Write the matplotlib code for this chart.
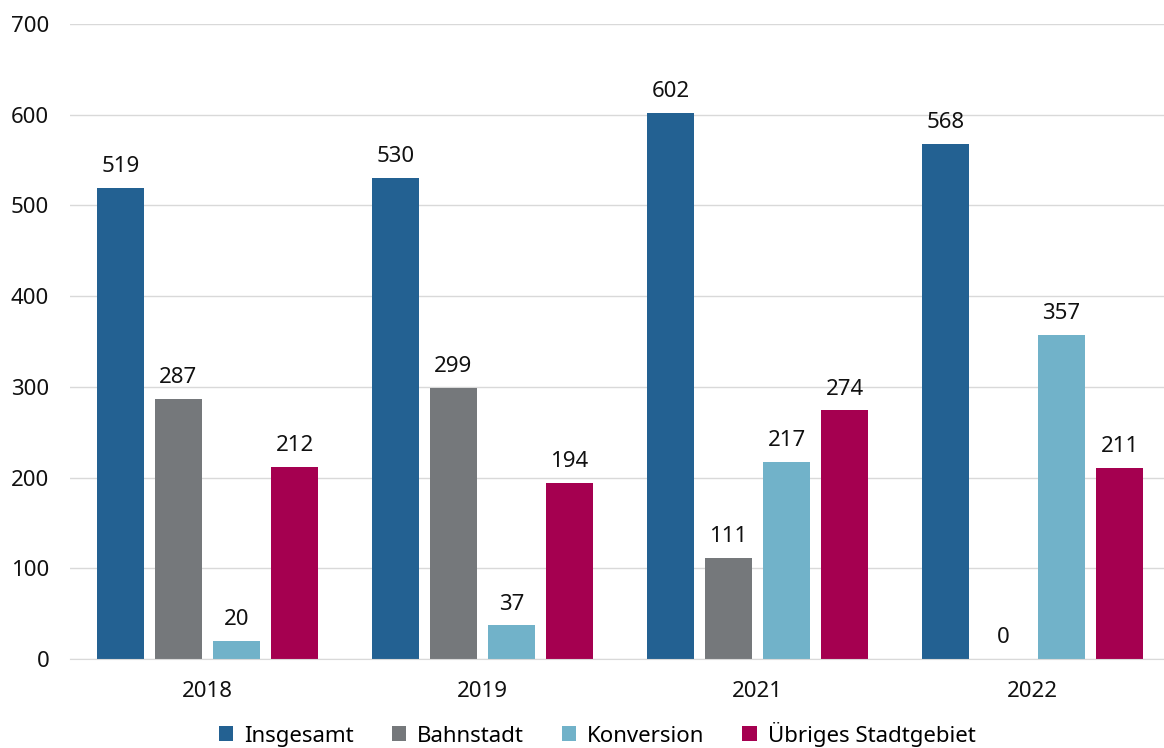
import numpy as np
import matplotlib.pyplot as plt

plt.rcParams['font.family'] = ['Noto Sans', 'DejaVu Sans']

years = ['2018', '2019', '2021', '2022']
series = ['Insgesamt', 'Bahnstadt', 'Konversion', 'Übriges Stadtgebiet']
insgesamt = [519, 530, 602, 568]
bahnstadt = [287, 299, 111, 0]
konversion = [20, 37, 217, 357]
uebriges = [212, 194, 274, 211]
colors = ['#236192', '#75787b', '#71b2c9', '#a50050']

values = [insgesamt, bahnstadt, konversion, uebriges]

fig = plt.figure(figsize=(11.64, 7.48), dpi=100)
# axes run slightly past the right edge of the figure, like the original
ax = fig.add_axes([70 / 1164, 89 / 748, 1100 / 1164, (659 - 24) / 748])

x = np.arange(len(years))
pitch = 0.211
width = 0.168
for i, (name, vals, c) in enumerate(zip(series, values, colors)):
    pos = x + (i - 1.5) * pitch
    bars = ax.bar(pos, vals, width, color=c, label=name, zorder=2)
    for b, v in zip(bars, vals):
        ax.text(b.get_x() + b.get_width() / 2, v + 12, str(v),
                ha='center', va='bottom', fontsize=16, color='#111111')

ax.set_xlim(-0.5, 3.5)
ax.set_ylim(0, 700)
ax.set_yticks(range(0, 701, 100))
ax.set_xticks(x)
ax.set_xticklabels(years)
ax.tick_params(axis='both', length=0, labelsize=16, colors='#111111')
ax.tick_params(axis='y', pad=15)
ax.tick_params(axis='x', pad=16)
ax.grid(axis='y', color='#d9d9d9', linewidth=1, zorder=0)
for s in ['top', 'right', 'left']:
    ax.spines[s].set_visible(False)
ax.spines['bottom'].set_color('#d9d9d9')
ax.spines['bottom'].set_zorder(3)

fig.legend(loc='lower center', bbox_to_anchor=(0.513, -0.025), ncol=4, frameon=False,
           fontsize=16, handlelength=0.65, handleheight=0.65, handletextpad=0.5,
           columnspacing=1.7)

fig.savefig('out.png', dpi=100)
